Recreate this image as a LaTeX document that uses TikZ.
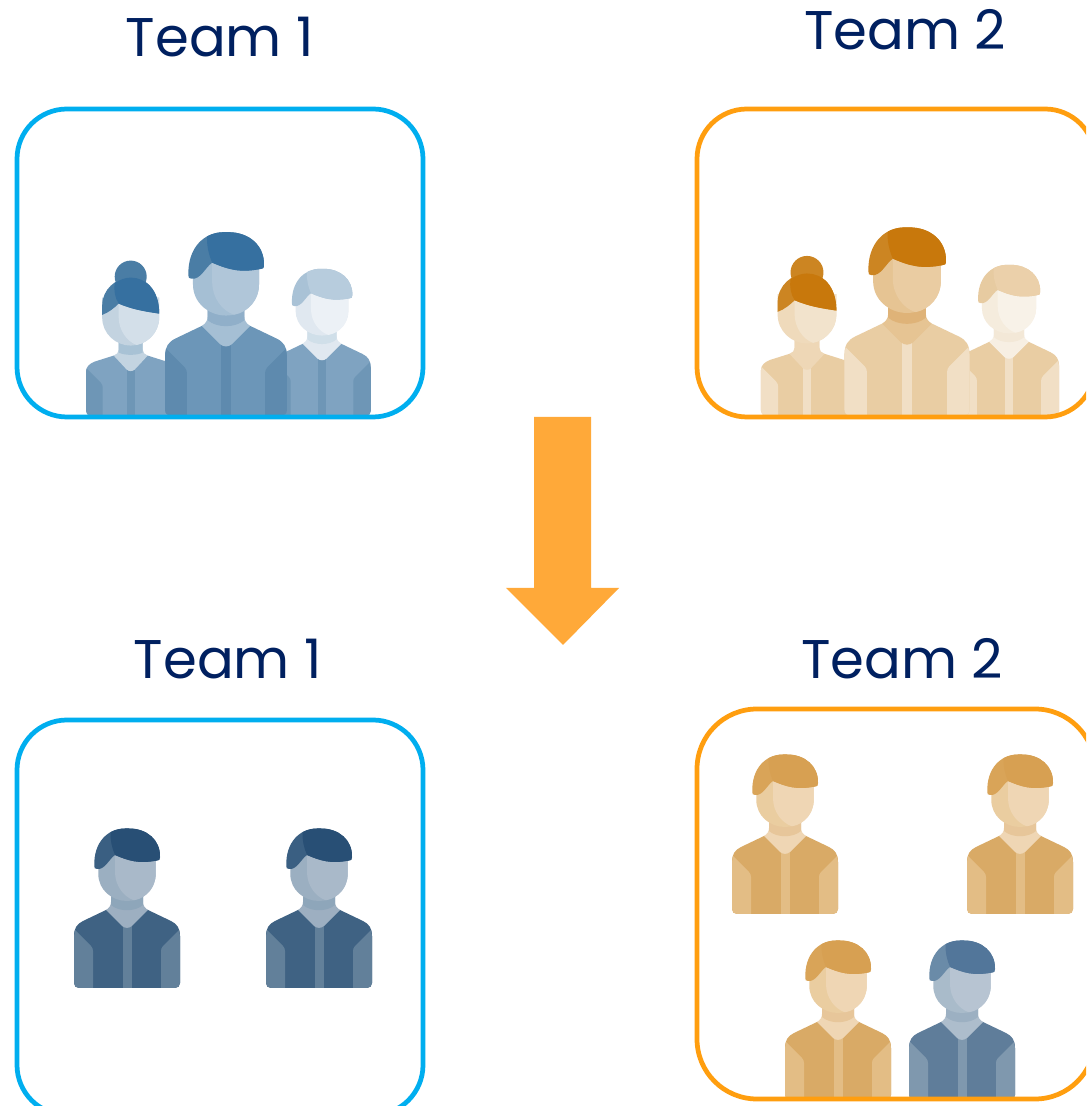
\documentclass[tikz,border=0pt]{standalone}
\usepackage{fontspec}
\setmainfont{Poppins}
\definecolor{navy}{HTML}{002060}
\definecolor{teamblue}{HTML}{00AEEF}
\definecolor{teamorange}{HTML}{FF9E0F}
\definecolor{bigarrow}{HTML}{FFA939}

% hair, hair side, face side, face, neck band, collar, jacket, sleeve
\newcommand{\crew}[8]{%
  \definecolor{hairA}{HTML}{#1}\definecolor{hairB}{HTML}{#2}%
  \definecolor{faceB}{HTML}{#3}\definecolor{faceA}{HTML}{#4}%
  \definecolor{bandA}{HTML}{#5}\definecolor{collarA}{HTML}{#6}%
  \definecolor{jacketA}{HTML}{#7}\definecolor{sleeveA}{HTML}{#8}}

\tikzset{
  pics/man/.style={code={
    \fill[jacketA] (-53,5) -- (-53,52) .. controls (-53,60) and (-50,64) .. (-44,67) -- (-21,78) -- (21,78) -- (44,67) .. controls (50,64) and (53,60) .. (53,52) -- (53,5) .. controls (53,2) and (51,0) .. (48,0) -- (-48,0) .. controls (-51,0) and (-53,2) .. (-53,5) -- cycle;
    \fill[sleeveA] (-52,58) -- (-36,42) .. controls (-34.5,40) and (-34,39) .. (-34,37) -- (-34,0) -- (-48,0) .. controls (-51,0) and (-53,2) .. (-53,5) -- (-53,52) -- cycle;
    \fill[sleeveA] (52,58) -- (36,42) .. controls (34.5,40) and (34,39) .. (34,37) -- (34,0) -- (48,0) .. controls (51,0) and (53,2) .. (53,5) -- (53,52) -- cycle;
    \fill[sleeveA] (-4.5,0) rectangle (4.5,62);
    \fill[collarA] (-21,78) -- (-5,62) .. controls (-2,59.5) and (2,59.5) .. (5,62) -- (21,78) .. controls (18,80) and (16,82) .. (16,86) -- (16,95) -- (-16,95) -- (-16,86) .. controls (-16,82) and (-18,80) .. (-21,78) -- cycle;
    \fill[bandA] (-16,83) .. controls (-8,76) and (8,76) .. (16,83) -- (16,95) -- (-16,95) -- cycle;
    \fill[faceB] (-28.7,135) -- (-28.7,114) .. controls (-28.7,98) and (-15,87) .. (0,87) .. controls (15,87) and (28.7,98) .. (28.7,114) -- (28.7,135) -- cycle;
    \fill[faceA] (-12,135) -- (-12,116) .. controls (-12,102) and (-3,91) .. (7,87.7) .. controls (20,90) and (28.7,101) .. (28.7,114) -- (28.7,135) -- cycle;
    \fill[hairB] (-32.7,122) .. controls (-33.5,146) and (-19,159.5) .. (-2,159.5) -- (2,159.5) .. controls (20,159.5) and (33.5,148) .. (33,131) .. controls (33,128) and (32,127.5) .. (30,127.5) .. controls (12,124) and (2,127) .. (-12,133) .. controls (-18,129) and (-22,118) .. (-30,119) .. controls (-32,119) and (-33,120) .. (-32.7,122) -- cycle;
    \fill[hairA] (-16.3,155.9) .. controls (-11.9,158.4) and (-6.5,159.5) .. (-2,159.5) -- (2,159.5) .. controls (20,159.5) and (33.5,148) .. (33,131) .. controls (33,128) and (32,127.5) .. (30,127.5) .. controls (12,124) and (2,127) .. (-12,133) .. controls (-15,140) and (-17,148) .. (-16.3,155.9) -- cycle;
  }},
  pics/woman/.style={code={
    \fill[hairB] (0,139) circle (16);
    \fill[jacketA] (-44.7,5) -- (-44.7,44) .. controls (-44.7,49) and (-41,52) .. (-36,54) -- (-17,60) -- (17,60) -- (36,54) .. controls (41,52) and (44.7,49) .. (44.7,44) -- (44.7,5) .. controls (44.7,2) and (43,0) .. (40,0) -- (-40,0) .. controls (-43,0) and (-44.7,2) .. (-44.7,5) -- cycle;
    \fill[sleeveA] (-44,47) -- (-30,33) .. controls (-28.5,31) and (-28,30) .. (-28,28) -- (-28,0) -- (-40,0) .. controls (-43,0) and (-44.7,2) .. (-44.7,5) -- (-44.7,44) -- cycle;
    \fill[sleeveA] (-4,0) rectangle (4,46);
    \fill[collarA] (-17,60) -- (-4,46) .. controls (-2,44) and (2,44) .. (4,46) -- (17,60) .. controls (14,61) and (12,63) .. (12,66) -- (12,76) -- (-12,76) -- (-12,66) .. controls (-12,63) and (-14,61) .. (-17,60) -- cycle;
    \fill[bandA] (-12,63) .. controls (-6,60) and (6,60) .. (12,63) -- (12,76) -- (-12,76) -- cycle;
    \fill[faceB] (-28.5,118) -- (-28.5,98) .. controls (-28.5,82) and (-15,70) .. (0,70) .. controls (15,70) and (28.5,82) .. (28.5,98) -- (28.5,118) -- cycle;
    \fill[faceA] (-12,118) -- (-12,98) .. controls (-12,86) and (-4,74) .. (6,70.6) .. controls (18,73) and (28.5,84) .. (28.5,98) -- (28.5,118) -- cycle;
    \fill[hairB] (-28.5,100.7) -- (-28.5,110) .. controls (-28.5,126) and (-15,138) .. (0,138) .. controls (15,138) and (28.5,126) .. (28.5,102) .. controls (15,104) and (2,106) .. (-12,112) .. controls (-16,108) and (-22,103) .. (-28.5,100.7) -- cycle;
    \fill[hairA] (-16,132.5) .. controls (-11,136) and (-5,138) .. (0,138) .. controls (15,138) and (28.5,126) .. (28.5,102) .. controls (15,104) and (2,106) .. (-12,112) .. controls (-16,118) and (-17,126) .. (-16,132.5) -- cycle;
  }}
}

\tikzstyle{title}=[text=navy, font=\fontsize{31}{37}\selectfont, inner sep=0pt]
\tikzstyle{frame}=[draw, line width=2.7pt, rounded corners=1cm, inner sep=0pt]

\begin{document}
\begin{tikzpicture}[x=0.02cm, y=0.02cm]
   \useasboundingbox (0,0) rectangle (1086,1106);
   \clip (0,0) rectangle (1086,1106);
   \fill[white] (0,0) rectangle (1086,1106);

   % first row
   \crew{3670A0}{4A7DA5}{C3D3E0}{D3DFE9}{A8C2D5}{C3D4E1}{7FA3C1}{6E96B6}
   \pic at (130.7,690.4) {woman};
   \crew{B7CCDD}{A9C2D6}{E0E8F0}{ECF1F6}{D0DFE9}{E0E8F0}{7FA3C1}{6E96B6}
   \pic[scale=0.92] at (322,690.4) {man};
   \crew{3670A0}{4A7DA5}{A5BFD4}{B0C6D9}{90AFC9}{A5BFD4}{6C96B8}{5E8AAE}
   \pic[scale=1.15] at (226,690.4) {man};

   \crew{C8780C}{CC8522}{EFDABB}{F2E3CC}{EED7B6}{EED7B6}{E9CDA3}{F1DFC5}
   \pic[scale=1.03] at (807,690.4) {woman};
   \crew{EBD0AA}{E7CBA1}{F5ECDD}{F8F2E8}{F3E8D7}{F7EFE3}{E9CDA3}{F1DFC5}
   \pic[scale=0.945] at (1009,690.4) {man};
   \crew{C8780C}{CC8522}{E6C493}{EACCA2}{DFB378}{E6C493}{E9CDA3}{F1DFC5}
   \pic[scale=1.18] at (907,690.4) {man};

   % second row
   \crew{284F75}{3A5F82}{9BAFC1}{A9B9C9}{8EA6BA}{9DAFC1}{3F6283}{62809A}
   \pic at (127,118) {man};
   \pic at (319,118) {man};

   \crew{D7A052}{D9A458}{EACDA0}{EFD6B4}{E7C69A}{EFD6B4}{D9AA66}{E3BD85}
   \pic at (785,192) {man};
   \pic at (1020,192) {man};
   \pic at (838,6) {man};
   \crew{52769A}{6A8BA8}{A9BBCA}{B7C4D2}{9CB0C2}{ADBDCC}{5F7D9A}{7F98AE}
   \pic at (962,6) {man};

   \node[frame, draw=teamblue, minimum width=406*0.02cm, minimum height=308*0.02cm] (frameA) at (220,843) {};
   \node[frame, draw=teamorange, minimum width=398*0.02cm, minimum height=308*0.02cm] (frameB) at (896,843) {};
   \node[frame, draw=teamblue, minimum width=406*0.02cm, minimum height=395*0.02cm] (frameC) at (220,188.5) {};
   \node[frame, draw=teamorange, minimum width=398*0.02cm, minimum height=390*0.02cm, rounded corners=1.2cm] (frameD) at (896,202) {};

   \node[title] (teamA) at (220,1069) {Team 1};
   \node[title] (teamB) at (905,1076) {Team 2};
   \node[title] (teamC) at (228,447) {Team 1};
   \node[title] (teamD) at (902,447) {Team 2};

   \fill[bigarrow] (534,689) -- (591,689) -- (591,518) -- (619,518) -- (563,461) -- (506,518) -- (534,518) -- cycle;
\end{tikzpicture}
\end{document}
